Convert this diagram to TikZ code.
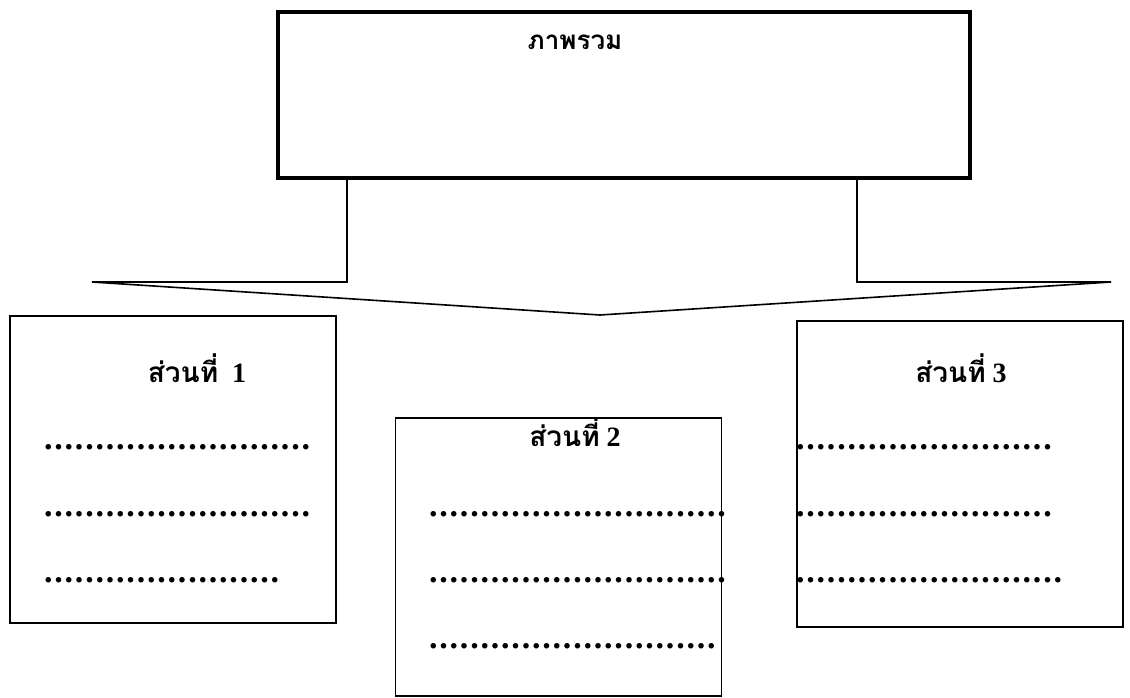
\documentclass[tikz,border=0pt]{standalone}
\usepackage{fontspec}
\setmainfont{Liberation Serif}
\newfontfamily\thaifont[Script=Thai]{Loma}
\usetikzlibrary{positioning}
% row of leader dots, #1 = number of dots
\newcommand{\leaderdots}[1]{\hbox to #1\dimexpr10.3pt\relax{\leaders\hbox to 10.3pt{\hss\bfseries.\hss}\hfill}}
\tikzset{
    % Boxes
    overviewbox/.style={
        draw, line width=4.5pt, inner sep=0pt
    },
    partbox/.style={
        draw, line width=1.6pt, inner sep=0pt,
        minimum width=326pt
    },
    % Texts
    title/.style={
        font=\fontsize{28}{32}\selectfont\bfseries, inner sep=0pt
    },
    dotrow/.style={
        font=\fontsize{34}{38}\selectfont, inner sep=0pt, anchor=base west
    },
    % Arrow outline
    arrowline/.style={line width=1.6pt, line join=miter}
}

\begin{document}
\begin{tikzpicture}[x=1pt,y=-1pt]
  \useasboundingbox (0,0) rectangle (1130,698);
  % overview box
  \node[overviewbox, minimum width=692pt, minimum height=166pt] (overview) at (624,95) {};
  \node[title, font=\fontsize{26}{30}\selectfont\bfseries] (overviewlabel) at (575,42) {\thaifont ภาพรวม};
  % wide arrow under the overview box
  \coordinate (al) at (347,180);
  \coordinate (ar) at (857,180);
  \draw[arrowline] (al) -- (347,282) -- (92,282) -- (600,315) -- (1111,282) -- (857,282) -- (ar);
  % part boxes
  \node[partbox, minimum height=307pt] (part1) at (173,469.5) {};
  \node[partbox, minimum height=278pt] (part2) at (558.5,557) {};
  \node[partbox, minimum height=306pt] (part3) at (960,474) {};
  \node[title] (part1label) at (197,368) {{\thaifont ส่วนที่}~~1};
  \node[title] (part2label) at (575,432) {{\thaifont ส่วนที่}~2};
  \node[title] (part3label) at (961,368) {{\thaifont ส่วนที่}~3};
  % dotted lines, part 1
  \node[dotrow] (p1a) at (43,449) {\leaderdots{26}};
  \node[dotrow] (p1b) at (43,516) {\leaderdots{26}};
  \node[dotrow] (p1c) at (43,582) {\leaderdots{23}};
  % dotted lines, part 2
  \node[dotrow] (p2a) at (428,516) {\leaderdots{29}};
  \node[dotrow] (p2b) at (428,582) {\leaderdots{29}};
  \node[dotrow] (p2c) at (428,648) {\leaderdots{28}};
  % dotted lines, part 3
  \node[dotrow] (p3a) at (795,449) {\leaderdots{25}};
  \node[dotrow] (p3b) at (795,516) {\leaderdots{25}};
  \node[dotrow] (p3c) at (795,582) {\leaderdots{26}};
\end{tikzpicture}
\end{document}
